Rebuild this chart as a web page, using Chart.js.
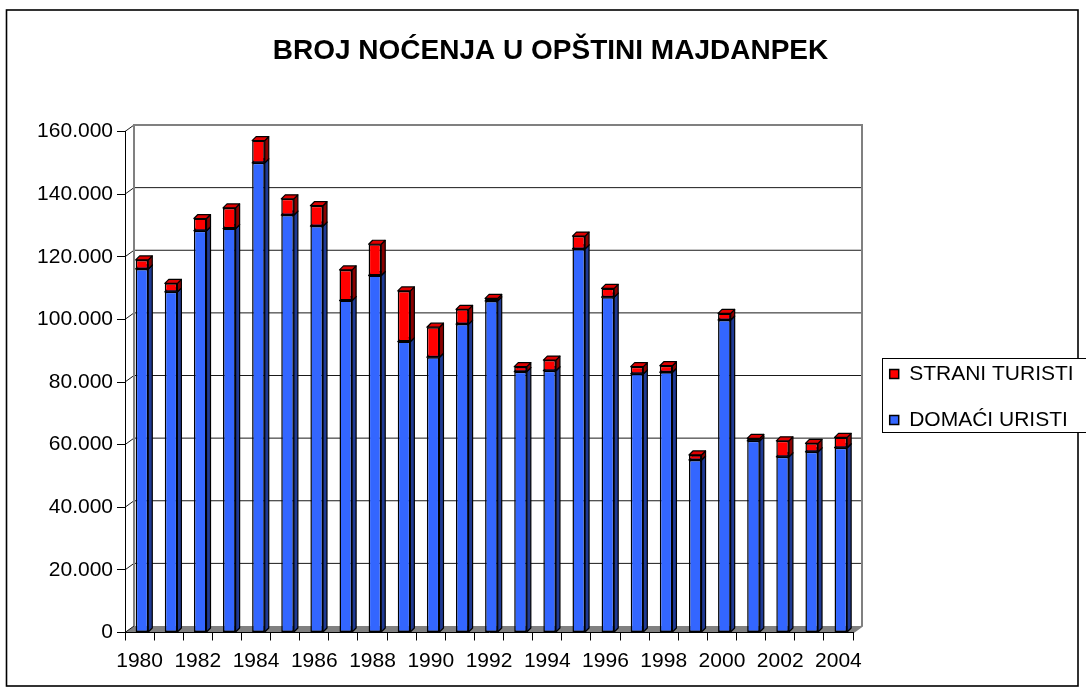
<!DOCTYPE html>
<html>
<head>
<meta charset="utf-8">
<script src="https://cdn.jsdelivr.net/npm/chart.js@4.4.0/dist/chart.umd.min.js"></script>
<style>
html,body{margin:0;padding:0;background:#fff;}
canvas{display:block;}
</style>
</head>
<body>
<canvas id="c" width="1086" height="696"></canvas>
<script>
// ---- data ----
const years = ['1980','1981','1982','1983','1984','1985','1986','1987','1988','1989','1990','1991','1992',
               '1993','1994','1995','1996','1997','1998','1999','2000','2001','2002','2003','2004'];
const domaci = [116100,108800,128300,129000,150000,133300,129800,106000,114000,92900,87900,98500,105900,
                83300,83600,122500,107100,82600,83100,55100,99800,61200,56100,57700,59000];
const strani = [2900,2700,3900,6600,7100,5200,6500,9800,10000,16200,9600,4700,800,
                1600,3400,4100,2800,2300,2100,1600,2100,800,5100,2700,3300];
const yTickLabels = ['0','20.000','40.000','60.000','80.000','100.000','120.000','140.000','160.000'];
const seriesNames = ['DOMAĆI URISTI','STRANI TURISTI'];
const titleText = 'BROJ NOĆENJA U OPŠTINI MAJDANPEK';

// ---- style ----
const FONT = "'Liberation Sans', Arial, sans-serif";
const WALL = {dx: 9, dy: -6.5};
const BAR3D = {dx: 4, dy: -4};
const BAR_SHIFT = 2.4;

const excel3d = {
  id: 'excel3d',
  afterLayout(chart) {
    const t = chart.titleBlock;
    if (t) { t.left = 15; t.right = 1086; }
    const lg = chart.legend;
    if (lg) { lg.left = 864.7; lg.right = 1100; lg.top = 338.5; lg.bottom = 480; }
  },
  beforeDraw(chart) {
    const ctx = chart.ctx;
    ctx.save();
    ctx.fillStyle = '#fff';
    ctx.fillRect(0, 0, chart.width, chart.height);
    // outer frame
    ctx.strokeStyle = '#000';
    ctx.lineWidth = 1.6;
    ctx.strokeRect(6.5, 10, 1071.5, 676);
    // walls & floor
    const ca = chart.chartArea, ys = chart.scales.y;
    const L = ca.left, R = ca.right;
    const B = ys.getPixelForValue(0), T = ys.getPixelForValue(160000);
    const dx = WALL.dx, dy = WALL.dy;
    ctx.fillStyle = '#808080';
    ctx.beginPath();
    ctx.moveTo(L, B); ctx.lineTo(R, B); ctx.lineTo(R + dx, B + dy); ctx.lineTo(L + dx, B + dy);
    ctx.closePath(); ctx.fill();
    ctx.strokeStyle = '#1a1a1a';
    ctx.lineWidth = 1;
    ys.ticks.forEach(tk => {
      const y = ys.getPixelForValue(tk.value);
      ctx.beginPath();
      ctx.moveTo(L, y); ctx.lineTo(L + dx, y + dy);
      if (tk.value > 0 && tk.value < 160000) ctx.lineTo(R + dx, y + dy);
      ctx.stroke();
    });
    ctx.strokeStyle = '#808080';
    ctx.lineWidth = 2;
    ctx.beginPath();
    ctx.moveTo(L + dx, B + dy); ctx.lineTo(L + dx, T + dy); ctx.lineTo(R + dx, T + dy);
    ctx.lineTo(R + dx, B + dy); ctx.lineTo(R, B);
    ctx.stroke();
    // legend frame
    ctx.fillStyle = '#fff';
    ctx.fillRect(882.5, 358.5, 220, 74);
    ctx.strokeStyle = '#000';
    ctx.lineWidth = 1;
    ctx.strokeRect(882.5, 358.5, 220, 74);
    ctx.restore();
  },
  beforeDatasetsDraw(chart) {
    const ctx = chart.ctx;
    ctx.save();
    ctx.translate(BAR_SHIFT, 0);
    const {dx, dy} = BAR3D;
    chart.data.datasets.forEach((ds, i) => {
      const meta = chart.getDatasetMeta(i);
      meta.data.forEach(bar => {
        const p = bar.getProps(['x', 'y', 'base', 'width'], true);
        const l = p.x - p.width / 2, r = p.x + p.width / 2;
        const top = Math.min(p.y, p.base), bot = Math.max(p.y, p.base);
        ctx.lineWidth = 1.2;
        ctx.strokeStyle = '#000';
        ctx.lineJoin = 'round';
        ctx.fillStyle = ds.sideColor;
        ctx.beginPath();
        ctx.moveTo(r, bot); ctx.lineTo(r + dx, bot + dy); ctx.lineTo(r + dx, top + dy); ctx.lineTo(r, top);
        ctx.closePath(); ctx.fill(); ctx.stroke();
        ctx.fillStyle = ds.topColor;
        ctx.beginPath();
        ctx.moveTo(l, top); ctx.lineTo(l + dx, top + dy); ctx.lineTo(r + dx, top + dy); ctx.lineTo(r, top);
        ctx.closePath(); ctx.fill(); ctx.stroke();
      });
    });
  },
  afterDatasetsDraw(chart) {
    chart.ctx.restore();
  }
};

new Chart(document.getElementById('c'), {
  type: 'bar',
  data: {
    labels: years,
    datasets: [
      { label: seriesNames[0], data: domaci, backgroundColor: '#3366FF', borderColor: '#000',
        borderWidth: 1.5, borderSkipped: false, sideColor: '#1f3a94', topColor: '#2f5ce6',
        barPercentage: 0.433, categoryPercentage: 1 },
      { label: seriesNames[1], data: strani, backgroundColor: '#FF0000', borderColor: '#000',
        borderWidth: 1.5, borderSkipped: false, sideColor: '#8a0000', topColor: '#e00000',
        barPercentage: 0.433, categoryPercentage: 1 }
    ]
  },
  options: {
    responsive: false,
    animation: false,
    devicePixelRatio: 1,
    layout: { padding: { left: 0, right: 233, top: 0, bottom: 0 } },
    plugins: {
      title: { display: true, text: titleText, color: '#000',
               font: { family: FONT, size: 28, weight: 'bold' },
               padding: { top: 34.7, bottom: 63.2 } },
      legend: { position: 'chartArea', align: 'start', reverse: true,
                labels: { color: '#000', font: { family: FONT, size: 21 },
                          boxWidth: 9, boxHeight: 9, padding: 25 } },
      tooltip: { enabled: false }
    },
    scales: {
      x: {
        stacked: true, offset: true,
        grid: { offset: true, drawOnChartArea: false, drawTicks: true, tickLength: 8, color: '#000' },
        border: { color: '#000', width: 1 },
        ticks: { autoSkip: false, maxRotation: 0, minRotation: 0, padding: 8, color: '#000',
                 font: { family: FONT, size: 21 },
                 callback: (v, i) => (i % 2 === 0 ? years[i] : '') },
        afterFit: s => { s.height = 63.5; }
      },
      y: {
        stacked: true, min: 0, max: 160000,
        grid: { drawOnChartArea: false, drawTicks: true, tickLength: 8, color: '#000' },
        border: { color: '#000', width: 1 },
        ticks: { stepSize: 20000, padding: 4, color: '#000', font: { family: FONT, size: 21 },
                 callback: (v, i) => yTickLabels[i] },
        afterFit: s => { s.width = 125; }
      }
    }
  },
  plugins: [excel3d]
});
</script>
</body>
</html>
